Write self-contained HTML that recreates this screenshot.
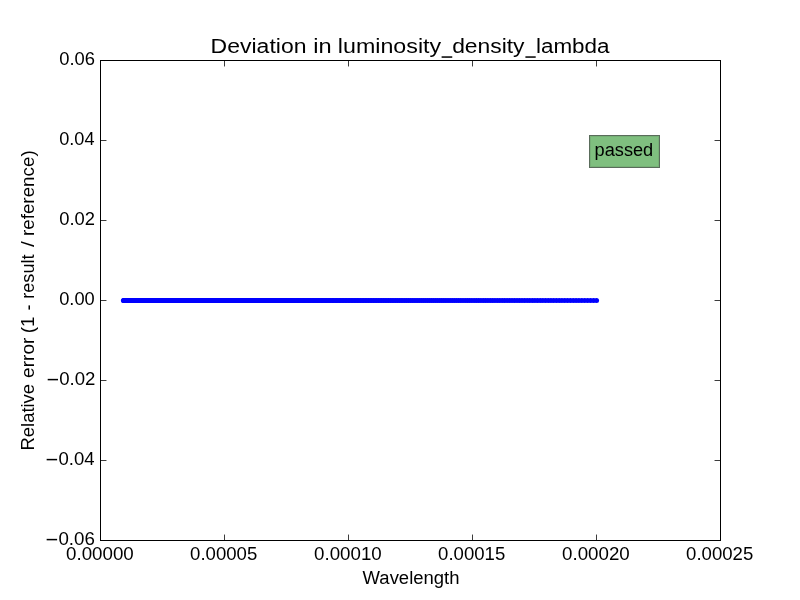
<!DOCTYPE html>
<html><head><meta charset="utf-8"><title>Deviation in luminosity_density_lambda</title>
<style>
html,body{margin:0;padding:0;background:#fff;}
body{width:800px;height:600px;overflow:hidden;}
svg{display:block;will-change:transform;}
text{font-family:"Liberation Sans",sans-serif;fill:#000;}
.ax{fill:#000;shape-rendering:crispEdges;}
.tk{fill:#3c3c3c;shape-rendering:crispEdges;}
.tke{fill:#000;fill-opacity:.35;shape-rendering:crispEdges;}
.dot{fill:#0000ff;}
</style></head>
<body>
<svg width="800" height="600" viewBox="0 0 800 600">
<rect x="0" y="0" width="800" height="600" fill="#ffffff"/>
<g class="dot">
<circle cx="123.40" cy="300.45" r="2.5"/><circle cx="123.85" cy="300.45" r="2.5"/><circle cx="124.31" cy="300.45" r="2.5"/><circle cx="124.78" cy="300.45" r="2.5"/><circle cx="125.26" cy="300.45" r="2.5"/><circle cx="125.75" cy="300.45" r="2.5"/>
<circle cx="126.24" cy="300.45" r="2.5"/><circle cx="126.75" cy="300.45" r="2.5"/><circle cx="127.26" cy="300.45" r="2.5"/><circle cx="127.78" cy="300.45" r="2.5"/><circle cx="128.31" cy="300.45" r="2.5"/><circle cx="128.86" cy="300.45" r="2.5"/>
<circle cx="129.41" cy="300.45" r="2.5"/><circle cx="129.97" cy="300.45" r="2.5"/><circle cx="130.54" cy="300.45" r="2.5"/><circle cx="131.12" cy="300.45" r="2.5"/><circle cx="131.72" cy="300.45" r="2.5"/><circle cx="132.32" cy="300.45" r="2.5"/>
<circle cx="132.94" cy="300.45" r="2.5"/><circle cx="133.56" cy="300.45" r="2.5"/><circle cx="134.20" cy="300.45" r="2.5"/><circle cx="134.85" cy="300.45" r="2.5"/><circle cx="135.51" cy="300.45" r="2.5"/><circle cx="136.18" cy="300.45" r="2.5"/>
<circle cx="136.64" cy="300.45" r="2.5"/><circle cx="137.10" cy="300.45" r="2.5"/><circle cx="137.56" cy="300.45" r="2.5"/><circle cx="138.03" cy="300.45" r="2.5"/><circle cx="138.51" cy="300.45" r="2.5"/><circle cx="139.00" cy="300.45" r="2.5"/>
<circle cx="139.48" cy="300.45" r="2.5"/><circle cx="139.98" cy="300.45" r="2.5"/><circle cx="140.48" cy="300.45" r="2.5"/><circle cx="140.99" cy="300.45" r="2.5"/><circle cx="141.50" cy="300.45" r="2.5"/><circle cx="142.02" cy="300.45" r="2.5"/>
<circle cx="142.55" cy="300.45" r="2.5"/><circle cx="143.08" cy="300.45" r="2.5"/><circle cx="143.62" cy="300.45" r="2.5"/><circle cx="144.16" cy="300.45" r="2.5"/><circle cx="144.71" cy="300.45" r="2.5"/><circle cx="145.27" cy="300.45" r="2.5"/>
<circle cx="145.84" cy="300.45" r="2.5"/><circle cx="146.41" cy="300.45" r="2.5"/><circle cx="146.99" cy="300.45" r="2.5"/><circle cx="147.57" cy="300.45" r="2.5"/><circle cx="148.17" cy="300.45" r="2.5"/><circle cx="148.77" cy="300.45" r="2.5"/>
<circle cx="149.37" cy="300.45" r="2.5"/><circle cx="149.99" cy="300.45" r="2.5"/><circle cx="150.61" cy="300.45" r="2.5"/><circle cx="151.24" cy="300.45" r="2.5"/><circle cx="151.88" cy="300.45" r="2.5"/><circle cx="152.52" cy="300.45" r="2.5"/>
<circle cx="153.17" cy="300.45" r="2.5"/><circle cx="153.83" cy="300.45" r="2.5"/><circle cx="154.50" cy="300.45" r="2.5"/><circle cx="155.18" cy="300.45" r="2.5"/><circle cx="155.86" cy="300.45" r="2.5"/><circle cx="156.56" cy="300.45" r="2.5"/>
<circle cx="157.26" cy="300.45" r="2.5"/><circle cx="157.97" cy="300.45" r="2.5"/><circle cx="158.69" cy="300.45" r="2.5"/><circle cx="159.41" cy="300.45" r="2.5"/><circle cx="160.15" cy="300.45" r="2.5"/><circle cx="160.89" cy="300.45" r="2.5"/>
<circle cx="161.65" cy="300.45" r="2.5"/><circle cx="162.41" cy="300.45" r="2.5"/><circle cx="163.18" cy="300.45" r="2.5"/><circle cx="163.96" cy="300.45" r="2.5"/><circle cx="164.75" cy="300.45" r="2.5"/><circle cx="165.55" cy="300.45" r="2.5"/>
<circle cx="166.36" cy="300.45" r="2.5"/><circle cx="167.18" cy="300.45" r="2.5"/><circle cx="168.01" cy="300.45" r="2.5"/><circle cx="168.85" cy="300.45" r="2.5"/><circle cx="169.70" cy="300.45" r="2.5"/><circle cx="170.56" cy="300.45" r="2.5"/>
<circle cx="171.43" cy="300.45" r="2.5"/><circle cx="172.32" cy="300.45" r="2.5"/><circle cx="173.21" cy="300.45" r="2.5"/><circle cx="174.11" cy="300.45" r="2.5"/><circle cx="174.56" cy="300.45" r="2.5"/><circle cx="175.02" cy="300.45" r="2.5"/>
<circle cx="175.48" cy="300.45" r="2.5"/><circle cx="175.95" cy="300.45" r="2.5"/><circle cx="176.41" cy="300.45" r="2.5"/><circle cx="176.88" cy="300.45" r="2.5"/><circle cx="177.35" cy="300.45" r="2.5"/><circle cx="177.83" cy="300.45" r="2.5"/>
<circle cx="178.31" cy="300.45" r="2.5"/><circle cx="178.79" cy="300.45" r="2.5"/><circle cx="179.27" cy="300.45" r="2.5"/><circle cx="179.76" cy="300.45" r="2.5"/><circle cx="180.25" cy="300.45" r="2.5"/><circle cx="180.74" cy="300.45" r="2.5"/>
<circle cx="181.23" cy="300.45" r="2.5"/><circle cx="181.73" cy="300.45" r="2.5"/><circle cx="182.23" cy="300.45" r="2.5"/><circle cx="182.74" cy="300.45" r="2.5"/><circle cx="183.25" cy="300.45" r="2.5"/><circle cx="183.76" cy="300.45" r="2.5"/>
<circle cx="184.27" cy="300.45" r="2.5"/><circle cx="184.79" cy="300.45" r="2.5"/><circle cx="185.31" cy="300.45" r="2.5"/><circle cx="185.83" cy="300.45" r="2.5"/><circle cx="186.35" cy="300.45" r="2.5"/><circle cx="186.88" cy="300.45" r="2.5"/>
<circle cx="187.41" cy="300.45" r="2.5"/><circle cx="187.95" cy="300.45" r="2.5"/><circle cx="188.49" cy="300.45" r="2.5"/><circle cx="189.03" cy="300.45" r="2.5"/><circle cx="189.58" cy="300.45" r="2.5"/><circle cx="190.12" cy="300.45" r="2.5"/>
<circle cx="190.68" cy="300.45" r="2.5"/><circle cx="191.23" cy="300.45" r="2.5"/><circle cx="191.79" cy="300.45" r="2.5"/><circle cx="192.35" cy="300.45" r="2.5"/><circle cx="192.92" cy="300.45" r="2.5"/><circle cx="193.49" cy="300.45" r="2.5"/>
<circle cx="194.06" cy="300.45" r="2.5"/><circle cx="194.63" cy="300.45" r="2.5"/><circle cx="195.21" cy="300.45" r="2.5"/><circle cx="195.79" cy="300.45" r="2.5"/><circle cx="196.38" cy="300.45" r="2.5"/><circle cx="196.97" cy="300.45" r="2.5"/>
<circle cx="197.56" cy="300.45" r="2.5"/><circle cx="198.16" cy="300.45" r="2.5"/><circle cx="198.76" cy="300.45" r="2.5"/><circle cx="199.36" cy="300.45" r="2.5"/><circle cx="199.97" cy="300.45" r="2.5"/><circle cx="200.58" cy="300.45" r="2.5"/>
<circle cx="201.20" cy="300.45" r="2.5"/><circle cx="201.81" cy="300.45" r="2.5"/><circle cx="202.44" cy="300.45" r="2.5"/><circle cx="203.06" cy="300.45" r="2.5"/><circle cx="203.69" cy="300.45" r="2.5"/><circle cx="204.32" cy="300.45" r="2.5"/>
<circle cx="204.96" cy="300.45" r="2.5"/><circle cx="205.60" cy="300.45" r="2.5"/><circle cx="206.25" cy="300.45" r="2.5"/><circle cx="206.90" cy="300.45" r="2.5"/><circle cx="207.55" cy="300.45" r="2.5"/><circle cx="208.21" cy="300.45" r="2.5"/>
<circle cx="208.87" cy="300.45" r="2.5"/><circle cx="209.53" cy="300.45" r="2.5"/><circle cx="210.20" cy="300.45" r="2.5"/><circle cx="210.87" cy="300.45" r="2.5"/><circle cx="211.55" cy="300.45" r="2.5"/><circle cx="212.23" cy="300.45" r="2.5"/>
<circle cx="212.92" cy="300.45" r="2.5"/><circle cx="213.60" cy="300.45" r="2.5"/><circle cx="214.30" cy="300.45" r="2.5"/><circle cx="214.99" cy="300.45" r="2.5"/><circle cx="215.70" cy="300.45" r="2.5"/><circle cx="216.40" cy="300.45" r="2.5"/>
<circle cx="217.11" cy="300.45" r="2.5"/><circle cx="217.83" cy="300.45" r="2.5"/><circle cx="218.54" cy="300.45" r="2.5"/><circle cx="219.27" cy="300.45" r="2.5"/><circle cx="219.99" cy="300.45" r="2.5"/><circle cx="220.73" cy="300.45" r="2.5"/>
<circle cx="221.46" cy="300.45" r="2.5"/><circle cx="222.20" cy="300.45" r="2.5"/><circle cx="222.95" cy="300.45" r="2.5"/><circle cx="223.70" cy="300.45" r="2.5"/><circle cx="224.45" cy="300.45" r="2.5"/><circle cx="225.21" cy="300.45" r="2.5"/>
<circle cx="225.97" cy="300.45" r="2.5"/><circle cx="226.74" cy="300.45" r="2.5"/><circle cx="227.51" cy="300.45" r="2.5"/><circle cx="228.29" cy="300.45" r="2.5"/><circle cx="229.07" cy="300.45" r="2.5"/><circle cx="229.86" cy="300.45" r="2.5"/>
<circle cx="230.65" cy="300.45" r="2.5"/><circle cx="231.44" cy="300.45" r="2.5"/><circle cx="232.24" cy="300.45" r="2.5"/><circle cx="233.05" cy="300.45" r="2.5"/><circle cx="233.86" cy="300.45" r="2.5"/><circle cx="234.67" cy="300.45" r="2.5"/>
<circle cx="235.49" cy="300.45" r="2.5"/><circle cx="236.32" cy="300.45" r="2.5"/><circle cx="237.15" cy="300.45" r="2.5"/><circle cx="237.98" cy="300.45" r="2.5"/><circle cx="238.82" cy="300.45" r="2.5"/><circle cx="239.67" cy="300.45" r="2.5"/>
<circle cx="240.52" cy="300.45" r="2.5"/><circle cx="241.37" cy="300.45" r="2.5"/><circle cx="242.23" cy="300.45" r="2.5"/><circle cx="243.10" cy="300.45" r="2.5"/><circle cx="243.97" cy="300.45" r="2.5"/><circle cx="244.85" cy="300.45" r="2.5"/>
<circle cx="245.73" cy="300.45" r="2.5"/><circle cx="246.61" cy="300.45" r="2.5"/><circle cx="247.51" cy="300.45" r="2.5"/><circle cx="248.40" cy="300.45" r="2.5"/><circle cx="249.31" cy="300.45" r="2.5"/><circle cx="250.21" cy="300.45" r="2.5"/>
<circle cx="251.13" cy="300.45" r="2.5"/><circle cx="252.05" cy="300.45" r="2.5"/><circle cx="252.97" cy="300.45" r="2.5"/><circle cx="253.90" cy="300.45" r="2.5"/><circle cx="254.84" cy="300.45" r="2.5"/><circle cx="255.78" cy="300.45" r="2.5"/>
<circle cx="256.73" cy="300.45" r="2.5"/><circle cx="257.68" cy="300.45" r="2.5"/><circle cx="258.64" cy="300.45" r="2.5"/><circle cx="259.60" cy="300.45" r="2.5"/><circle cx="260.57" cy="300.45" r="2.5"/><circle cx="261.55" cy="300.45" r="2.5"/>
<circle cx="262.53" cy="300.45" r="2.5"/><circle cx="263.52" cy="300.45" r="2.5"/><circle cx="264.51" cy="300.45" r="2.5"/><circle cx="265.51" cy="300.45" r="2.5"/><circle cx="266.52" cy="300.45" r="2.5"/><circle cx="267.53" cy="300.45" r="2.5"/>
<circle cx="268.55" cy="300.45" r="2.5"/><circle cx="269.57" cy="300.45" r="2.5"/><circle cx="270.60" cy="300.45" r="2.5"/><circle cx="271.64" cy="300.45" r="2.5"/><circle cx="272.68" cy="300.45" r="2.5"/><circle cx="273.73" cy="300.45" r="2.5"/>
<circle cx="274.78" cy="300.45" r="2.5"/><circle cx="275.84" cy="300.45" r="2.5"/><circle cx="276.91" cy="300.45" r="2.5"/><circle cx="277.99" cy="300.45" r="2.5"/><circle cx="279.07" cy="300.45" r="2.5"/><circle cx="280.15" cy="300.45" r="2.5"/>
<circle cx="281.25" cy="300.45" r="2.5"/><circle cx="282.35" cy="300.45" r="2.5"/><circle cx="283.46" cy="300.45" r="2.5"/><circle cx="284.57" cy="300.45" r="2.5"/><circle cx="285.69" cy="300.45" r="2.5"/><circle cx="286.82" cy="300.45" r="2.5"/>
<circle cx="287.95" cy="300.45" r="2.5"/><circle cx="289.09" cy="300.45" r="2.5"/><circle cx="290.24" cy="300.45" r="2.5"/><circle cx="291.39" cy="300.45" r="2.5"/><circle cx="292.56" cy="300.45" r="2.5"/><circle cx="293.72" cy="300.45" r="2.5"/>
<circle cx="294.90" cy="300.45" r="2.5"/><circle cx="296.08" cy="300.45" r="2.5"/><circle cx="297.27" cy="300.45" r="2.5"/><circle cx="298.47" cy="300.45" r="2.5"/><circle cx="299.67" cy="300.45" r="2.5"/><circle cx="300.89" cy="300.45" r="2.5"/>
<circle cx="302.10" cy="300.45" r="2.5"/><circle cx="303.33" cy="300.45" r="2.5"/><circle cx="304.56" cy="300.45" r="2.5"/><circle cx="305.80" cy="300.45" r="2.5"/><circle cx="307.05" cy="300.45" r="2.5"/><circle cx="308.31" cy="300.45" r="2.5"/>
<circle cx="309.57" cy="300.45" r="2.5"/><circle cx="310.84" cy="300.45" r="2.5"/><circle cx="312.12" cy="300.45" r="2.5"/><circle cx="313.41" cy="300.45" r="2.5"/><circle cx="314.70" cy="300.45" r="2.5"/><circle cx="316.00" cy="300.45" r="2.5"/>
<circle cx="317.31" cy="300.45" r="2.5"/><circle cx="318.63" cy="300.45" r="2.5"/><circle cx="319.96" cy="300.45" r="2.5"/><circle cx="321.29" cy="300.45" r="2.5"/><circle cx="322.63" cy="300.45" r="2.5"/><circle cx="323.98" cy="300.45" r="2.5"/>
<circle cx="325.34" cy="300.45" r="2.5"/><circle cx="326.70" cy="300.45" r="2.5"/><circle cx="328.08" cy="300.45" r="2.5"/><circle cx="329.46" cy="300.45" r="2.5"/><circle cx="330.85" cy="300.45" r="2.5"/><circle cx="332.25" cy="300.45" r="2.5"/>
<circle cx="333.66" cy="300.45" r="2.5"/><circle cx="335.07" cy="300.45" r="2.5"/><circle cx="336.50" cy="300.45" r="2.5"/><circle cx="337.93" cy="300.45" r="2.5"/><circle cx="339.37" cy="300.45" r="2.5"/><circle cx="340.82" cy="300.45" r="2.5"/>
<circle cx="342.28" cy="300.45" r="2.5"/><circle cx="343.75" cy="300.45" r="2.5"/><circle cx="345.23" cy="300.45" r="2.5"/><circle cx="346.71" cy="300.45" r="2.5"/><circle cx="348.21" cy="300.45" r="2.5"/><circle cx="349.71" cy="300.45" r="2.5"/>
<circle cx="351.23" cy="300.45" r="2.5"/><circle cx="352.75" cy="300.45" r="2.5"/><circle cx="354.28" cy="300.45" r="2.5"/><circle cx="355.82" cy="300.45" r="2.5"/><circle cx="357.37" cy="300.45" r="2.5"/><circle cx="358.93" cy="300.45" r="2.5"/>
<circle cx="360.49" cy="300.45" r="2.5"/><circle cx="362.07" cy="300.45" r="2.5"/><circle cx="363.66" cy="300.45" r="2.5"/><circle cx="365.26" cy="300.45" r="2.5"/><circle cx="366.86" cy="300.45" r="2.5"/><circle cx="368.48" cy="300.45" r="2.5"/>
<circle cx="370.10" cy="300.45" r="2.5"/><circle cx="371.74" cy="300.45" r="2.5"/><circle cx="373.38" cy="300.45" r="2.5"/><circle cx="375.04" cy="300.45" r="2.5"/><circle cx="376.71" cy="300.45" r="2.5"/><circle cx="378.38" cy="300.45" r="2.5"/>
<circle cx="380.07" cy="300.45" r="2.5"/><circle cx="381.76" cy="300.45" r="2.5"/><circle cx="383.47" cy="300.45" r="2.5"/><circle cx="385.18" cy="300.45" r="2.5"/><circle cx="386.91" cy="300.45" r="2.5"/><circle cx="388.65" cy="300.45" r="2.5"/>
<circle cx="390.39" cy="300.45" r="2.5"/><circle cx="392.15" cy="300.45" r="2.5"/><circle cx="393.92" cy="300.45" r="2.5"/><circle cx="395.70" cy="300.45" r="2.5"/><circle cx="397.49" cy="300.45" r="2.5"/><circle cx="399.29" cy="300.45" r="2.5"/>
<circle cx="401.10" cy="300.45" r="2.5"/><circle cx="402.92" cy="300.45" r="2.5"/><circle cx="404.75" cy="300.45" r="2.5"/><circle cx="406.60" cy="300.45" r="2.5"/><circle cx="408.45" cy="300.45" r="2.5"/><circle cx="410.32" cy="300.45" r="2.5"/>
<circle cx="412.20" cy="300.45" r="2.5"/><circle cx="414.09" cy="300.45" r="2.5"/><circle cx="415.99" cy="300.45" r="2.5"/><circle cx="417.90" cy="300.45" r="2.5"/><circle cx="419.82" cy="300.45" r="2.5"/><circle cx="421.76" cy="300.45" r="2.5"/>
<circle cx="423.70" cy="300.45" r="2.5"/><circle cx="425.66" cy="300.45" r="2.5"/><circle cx="427.63" cy="300.45" r="2.5"/><circle cx="429.61" cy="300.45" r="2.5"/><circle cx="431.61" cy="300.45" r="2.5"/><circle cx="433.61" cy="300.45" r="2.5"/>
<circle cx="435.63" cy="300.45" r="2.5"/><circle cx="437.66" cy="300.45" r="2.5"/><circle cx="439.70" cy="300.45" r="2.5"/><circle cx="441.76" cy="300.45" r="2.5"/><circle cx="443.83" cy="300.45" r="2.5"/><circle cx="445.90" cy="300.45" r="2.5"/>
<circle cx="448.00" cy="300.45" r="2.5"/><circle cx="450.10" cy="300.45" r="2.5"/><circle cx="452.22" cy="300.45" r="2.5"/><circle cx="454.35" cy="300.45" r="2.5"/><circle cx="456.49" cy="300.45" r="2.5"/><circle cx="458.65" cy="300.45" r="2.5"/>
<circle cx="460.82" cy="300.45" r="2.5"/><circle cx="463.00" cy="300.45" r="2.5"/><circle cx="465.19" cy="300.45" r="2.5"/><circle cx="467.40" cy="300.45" r="2.5"/><circle cx="469.62" cy="300.45" r="2.5"/><circle cx="471.86" cy="300.45" r="2.5"/>
<circle cx="474.10" cy="300.45" r="2.5"/><circle cx="476.37" cy="300.45" r="2.5"/><circle cx="478.64" cy="300.45" r="2.5"/><circle cx="480.93" cy="300.45" r="2.5"/><circle cx="483.23" cy="300.45" r="2.5"/><circle cx="485.55" cy="300.45" r="2.5"/>
<circle cx="487.88" cy="300.45" r="2.5"/><circle cx="490.23" cy="300.45" r="2.5"/><circle cx="492.58" cy="300.45" r="2.5"/><circle cx="494.96" cy="300.45" r="2.5"/><circle cx="497.34" cy="300.45" r="2.5"/><circle cx="499.75" cy="300.45" r="2.5"/>
<circle cx="502.16" cy="300.45" r="2.5"/><circle cx="504.59" cy="300.45" r="2.5"/><circle cx="507.04" cy="300.45" r="2.5"/><circle cx="509.50" cy="300.45" r="2.5"/><circle cx="511.97" cy="300.45" r="2.5"/><circle cx="514.46" cy="300.45" r="2.5"/>
<circle cx="516.97" cy="300.45" r="2.5"/><circle cx="519.49" cy="300.45" r="2.5"/><circle cx="522.02" cy="300.45" r="2.5"/><circle cx="524.57" cy="300.45" r="2.5"/><circle cx="527.14" cy="300.45" r="2.5"/><circle cx="529.72" cy="300.45" r="2.5"/>
<circle cx="532.32" cy="300.45" r="2.5"/><circle cx="534.93" cy="300.45" r="2.5"/><circle cx="537.56" cy="300.45" r="2.5"/><circle cx="540.20" cy="300.45" r="2.5"/><circle cx="542.86" cy="300.45" r="2.5"/><circle cx="545.54" cy="300.45" r="2.5"/>
<circle cx="548.23" cy="300.45" r="2.5"/><circle cx="550.94" cy="300.45" r="2.5"/><circle cx="553.66" cy="300.45" r="2.5"/><circle cx="556.40" cy="300.45" r="2.5"/><circle cx="559.16" cy="300.45" r="2.5"/><circle cx="561.93" cy="300.45" r="2.5"/>
<circle cx="564.72" cy="300.45" r="2.5"/><circle cx="567.53" cy="300.45" r="2.5"/><circle cx="570.35" cy="300.45" r="2.5"/><circle cx="573.19" cy="300.45" r="2.5"/><circle cx="576.05" cy="300.45" r="2.5"/><circle cx="578.93" cy="300.45" r="2.5"/>
<circle cx="581.82" cy="300.45" r="2.5"/><circle cx="584.73" cy="300.45" r="2.5"/><circle cx="587.66" cy="300.45" r="2.5"/><circle cx="590.61" cy="300.45" r="2.5"/><circle cx="593.57" cy="300.45" r="2.5"/><circle cx="596.55" cy="300.45" r="2.5"/>

</g>
<g class="ax">
<rect x="100" y="60" width="621" height="1"/>
<rect x="100" y="540" width="621" height="1"/>
<rect x="100" y="60" width="1" height="481"/>
<rect x="720" y="60" width="1" height="481"/>
</g>
<g class="tk">
<rect x="224" y="535" width="1" height="5"/><rect x="224" y="61" width="1" height="5"/>
<rect x="348" y="535" width="1" height="5"/><rect x="348" y="61" width="1" height="5"/>
<rect x="472" y="535" width="1" height="5"/><rect x="472" y="61" width="1" height="5"/>
<rect x="596" y="535" width="1" height="5"/><rect x="596" y="61" width="1" height="5"/>
<rect x="101" y="140" width="5" height="1"/><rect x="715" y="140" width="5" height="1"/>
<rect x="101" y="220" width="5" height="1"/><rect x="715" y="220" width="5" height="1"/>
<rect x="101" y="300" width="5" height="1"/><rect x="715" y="300" width="5" height="1"/>
<rect x="101" y="380" width="5" height="1"/><rect x="715" y="380" width="5" height="1"/>
<rect x="101" y="460" width="5" height="1"/><rect x="715" y="460" width="5" height="1"/>
</g>
<g class="tke">
<rect x="224" y="534" width="1" height="1"/><rect x="224" y="66" width="1" height="1"/>
<rect x="348" y="534" width="1" height="1"/><rect x="348" y="66" width="1" height="1"/>
<rect x="472" y="534" width="1" height="1"/><rect x="472" y="66" width="1" height="1"/>
<rect x="596" y="534" width="1" height="1"/><rect x="596" y="66" width="1" height="1"/>
<rect x="106" y="140" width="1" height="1"/><rect x="714" y="140" width="1" height="1"/>
<rect x="106" y="220" width="1" height="1"/><rect x="714" y="220" width="1" height="1"/>
<rect x="106" y="300" width="1" height="1"/><rect x="714" y="300" width="1" height="1"/>
<rect x="106" y="380" width="1" height="1"/><rect x="714" y="380" width="1" height="1"/>
<rect x="106" y="460" width="1" height="1"/><rect x="714" y="460" width="1" height="1"/>
</g>
<text transform="translate(210.61,52.80) scale(1.1170,1)" font-size="20.60" text-anchor="start">Deviation</text>
<text transform="translate(313.17,52.80) scale(1.1471,1)" font-size="20.60" text-anchor="start">in</text>
<text transform="translate(337.83,52.80) scale(1.1287,1)" font-size="20.60" text-anchor="start">luminosity</text>
<text transform="translate(452.14,52.80) scale(1.1101,1)" font-size="20.60" text-anchor="start">density</text>
<text transform="translate(535.99,52.80) scale(1.0891,1)" font-size="20.60" text-anchor="start">lambda</text>
<rect x="441.60" y="56.3" width="10.65" height="1.5" fill="#000"/>
<rect x="525.40" y="56.3" width="10.30" height="1.5" fill="#000"/>
<text transform="translate(59.18,64.80) scale(1.0210,1)" font-size="18.00" text-anchor="start">0.06</text>
<text transform="translate(59.19,144.80) scale(1.0097,1)" font-size="18.00" text-anchor="start">0.04</text>
<text transform="translate(59.18,224.80) scale(1.0211,1)" font-size="18.00" text-anchor="start">0.02</text>
<text transform="translate(59.18,304.80) scale(1.0150,1)" font-size="18.00" text-anchor="start">0.00</text>
<text transform="translate(59.17,384.80) scale(1.0331,1)" font-size="18.00" text-anchor="start">0.02</text>
<text transform="translate(58.42,464.80) scale(1.0319,1)" font-size="18.00" text-anchor="start">0.04</text>
<text transform="translate(58.41,544.80) scale(1.0404,1)" font-size="18.00" text-anchor="start">0.06</text>
<rect x="47.70" y="378.85" width="10.30" height="1.50" fill="#000"/>
<rect x="46.65" y="458.85" width="10.45" height="1.50" fill="#000"/>
<rect x="46.65" y="538.85" width="10.45" height="1.50" fill="#000"/>
<text transform="translate(66.06,559.80) scale(1.0400,1)" font-size="18.00" text-anchor="start">0.00000</text>
<text transform="translate(190.07,559.80) scale(1.0330,1)" font-size="18.00" text-anchor="start">0.00005</text>
<text transform="translate(314.06,559.80) scale(1.0400,1)" font-size="18.00" text-anchor="start">0.00010</text>
<text transform="translate(438.07,559.80) scale(1.0330,1)" font-size="18.00" text-anchor="start">0.00015</text>
<text transform="translate(562.06,559.80) scale(1.0400,1)" font-size="18.00" text-anchor="start">0.00020</text>
<text transform="translate(686.07,559.80) scale(1.0330,1)" font-size="18.00" text-anchor="start">0.00025</text>
<text transform="translate(362.59,583.70) scale(1.0051,1)" font-size="18.40" text-anchor="start">Wavelength</text>
<rect x="28.5" y="305.4" width="1.5" height="4.2" fill="#000"/>
<text transform="translate(33.70,450.50) rotate(-90) scale(1.0023,1)" font-size="18.40" text-anchor="start">Relative</text>
<text transform="translate(33.70,377.92) rotate(-90) scale(1.0369,1)" font-size="18.40" text-anchor="start">error</text>
<text transform="translate(33.70,333.17) rotate(-90) scale(1.0273,1)" font-size="18.40" text-anchor="start">(1</text>
<text transform="translate(33.70,298.73) rotate(-90) scale(0.9839,1)" font-size="18.40" text-anchor="start">result</text>
<text transform="translate(33.70,247.00) rotate(-90) scale(1.1351,1)" font-size="18.40" text-anchor="start">/</text>
<text transform="translate(33.70,236.03) rotate(-90) scale(1.0226,1)" font-size="18.40" text-anchor="start">reference)</text>
<rect x="589.5" y="135.5" width="70" height="32" fill="#7fbf7f" stroke="#5a6c5b" stroke-width="1" shape-rendering="crispEdges"/>
<rect x="590.5" y="136.5" width="68" height="30" fill="none" stroke="#000" stroke-opacity="0.07" stroke-width="1" shape-rendering="crispEdges"/>
<text transform="translate(594.56,155.60) scale(0.9888,1)" font-size="18.40" text-anchor="start">passed</text>
</svg>
</body></html>
